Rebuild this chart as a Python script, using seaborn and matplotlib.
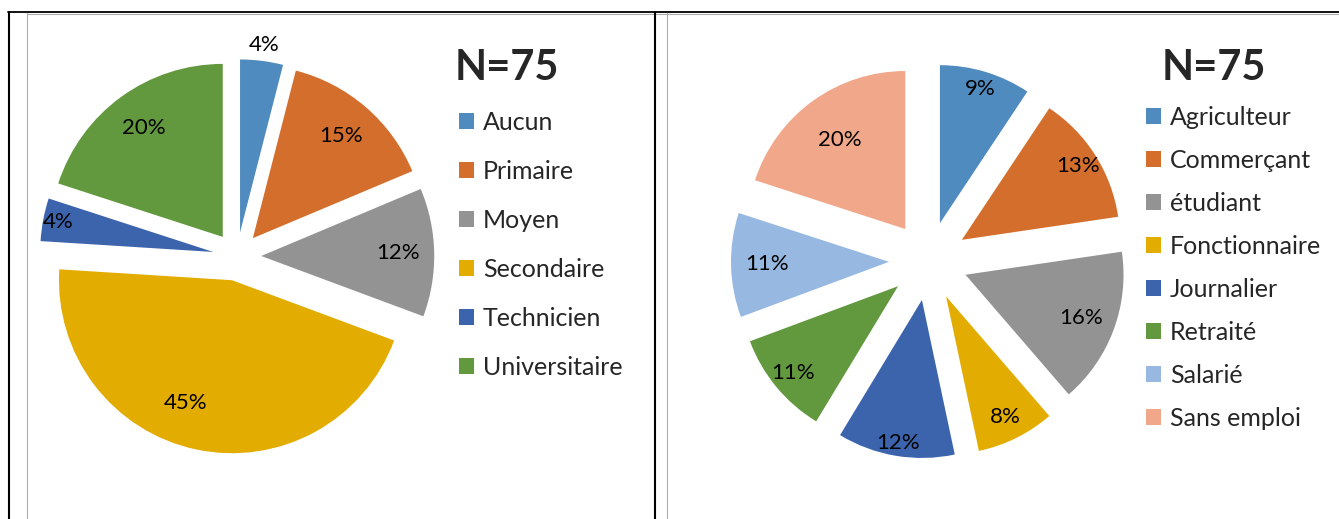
import numpy as np
import seaborn as sns
import matplotlib.pyplot as plt
from matplotlib.lines import Line2D

# data (N = 75 respondents, counts giving the printed percentages)
n_total = 75
edu_labels = ["Aucun", "Primaire", "Moyen", "Secondaire", "Technicien", "Universitaire"]
edu_counts = [3, 11, 9, 34, 3, 15]
job_labels = ["Agriculteur", "Commerçant", "étudiant", "Fonctionnaire",
              "Journalier", "Retraité", "Salarié", "Sans emploi"]
job_counts = [7, 10, 12, 6, 9, 8, 8, 15]

# styles
edu_colors = ["#508BBF", "#D46E2C", "#939393", "#E2AC00", "#3C64AD", "#62993E"]
job_colors = ["#508BBF", "#D46E2C", "#939393", "#E2AC00", "#3C64AD", "#62993E",
              "#97B8E0", "#F0A78A"]
edu_label_dist = [1.09, 0.78, 0.79, 0.76, 0.91, 0.78]
edu_label_turn = [0, 0, 0, 8.5, 0, 0]
job_label_dist = [0.89, 0.87, 0.78, 0.85, 0.92, 0.86, 0.77, 0.70]
job_label_turn = [0] * 8

W, H = 1339, 519
sns.set_theme(style="white")
plt.rcParams["font.family"] = ["Lato", "DejaVu Sans"]

fig = plt.figure(figsize=(W / 100, H / 100), dpi=100)


def px_axes(cx, cy, half):
    return fig.add_axes([(cx - half) / W, (H - cy - half) / H, 2 * half / W, 2 * half / H])


def draw_pie(ax, counts, colors, radius_px, half, explode, dist, turn):
    wedges, _, autotexts = ax.pie(
        counts, colors=colors, startangle=90, counterclock=False,
        explode=[explode] * len(counts), autopct="%.0f%%",
        textprops=dict(fontsize=16, color="black"),
        wedgeprops=dict(linewidth=0))
    for w, t, d, a in zip(wedges, autotexts, dist, turn):
        mid = np.deg2rad((w.theta1 + w.theta2) / 2 - a)
        cx, cy = w.center
        t.set_position((cx + d * np.cos(mid), cy + d * np.sin(mid)))
    lim = half / radius_px
    ax.set_xlim(-lim, lim)
    ax.set_ylim(-lim, lim)
    ax.set_aspect("equal")
    ax.axis("off")
    return wedges


def add_legend(wedges, labels, x, y, spacing):
    fig.legend(wedges, labels, loc="upper left", bbox_to_anchor=(x / W, 1 - y / H),
               frameon=False, fontsize=18, handlelength=0.6, handleheight=0.6,
               handletextpad=0.35, labelspacing=spacing, borderpad=0, borderaxespad=0)


ax1 = px_axes(237, 256.5, 230)
w1 = draw_pie(ax1, edu_counts, edu_colors, 173, 230, 0.14, edu_label_dist, edu_label_turn)
add_legend(w1, edu_labels, 459, 111, 1.04)
fig.text(455 / W, 1 - 68 / H, f"N={n_total}", fontsize=30, fontweight="bold",
         ha="left", va="center")

ax2 = px_axes(928.5, 261, 230)
w2 = draw_pie(ax2, job_counts, job_colors, 158, 230, 0.25, job_label_dist, job_label_turn)
add_legend(w2, job_labels, 1146, 106, 0.80)
fig.text(1162 / W, 1 - 68 / H, f"N={n_total}", fontsize=30, fontweight="bold",
         ha="left", va="center")


# frames around the two charts
def hline(x0, x1, y, color, lw):
    fig.add_artist(Line2D([x0 / W, x1 / W], [1 - y / H, 1 - y / H], color=color, lw=lw))


def vline(x, y0, y1, color, lw):
    fig.add_artist(Line2D([x / W, x / W], [1 - y0 / H, 1 - y1 / H], color=color, lw=lw))


hline(27, 1339, 13.5, "#ADADAD", 0.8)
vline(27, 13, 519, "#ADADAD", 0.8)
vline(667, 13, 519, "#ADADAD", 0.8)
hline(8, 1339, 12, "black", 1.3)
vline(9, 12, 519, "black", 1.5)
vline(655, 12, 519, "black", 1.5)

fig.savefig("out.png", dpi=100)
